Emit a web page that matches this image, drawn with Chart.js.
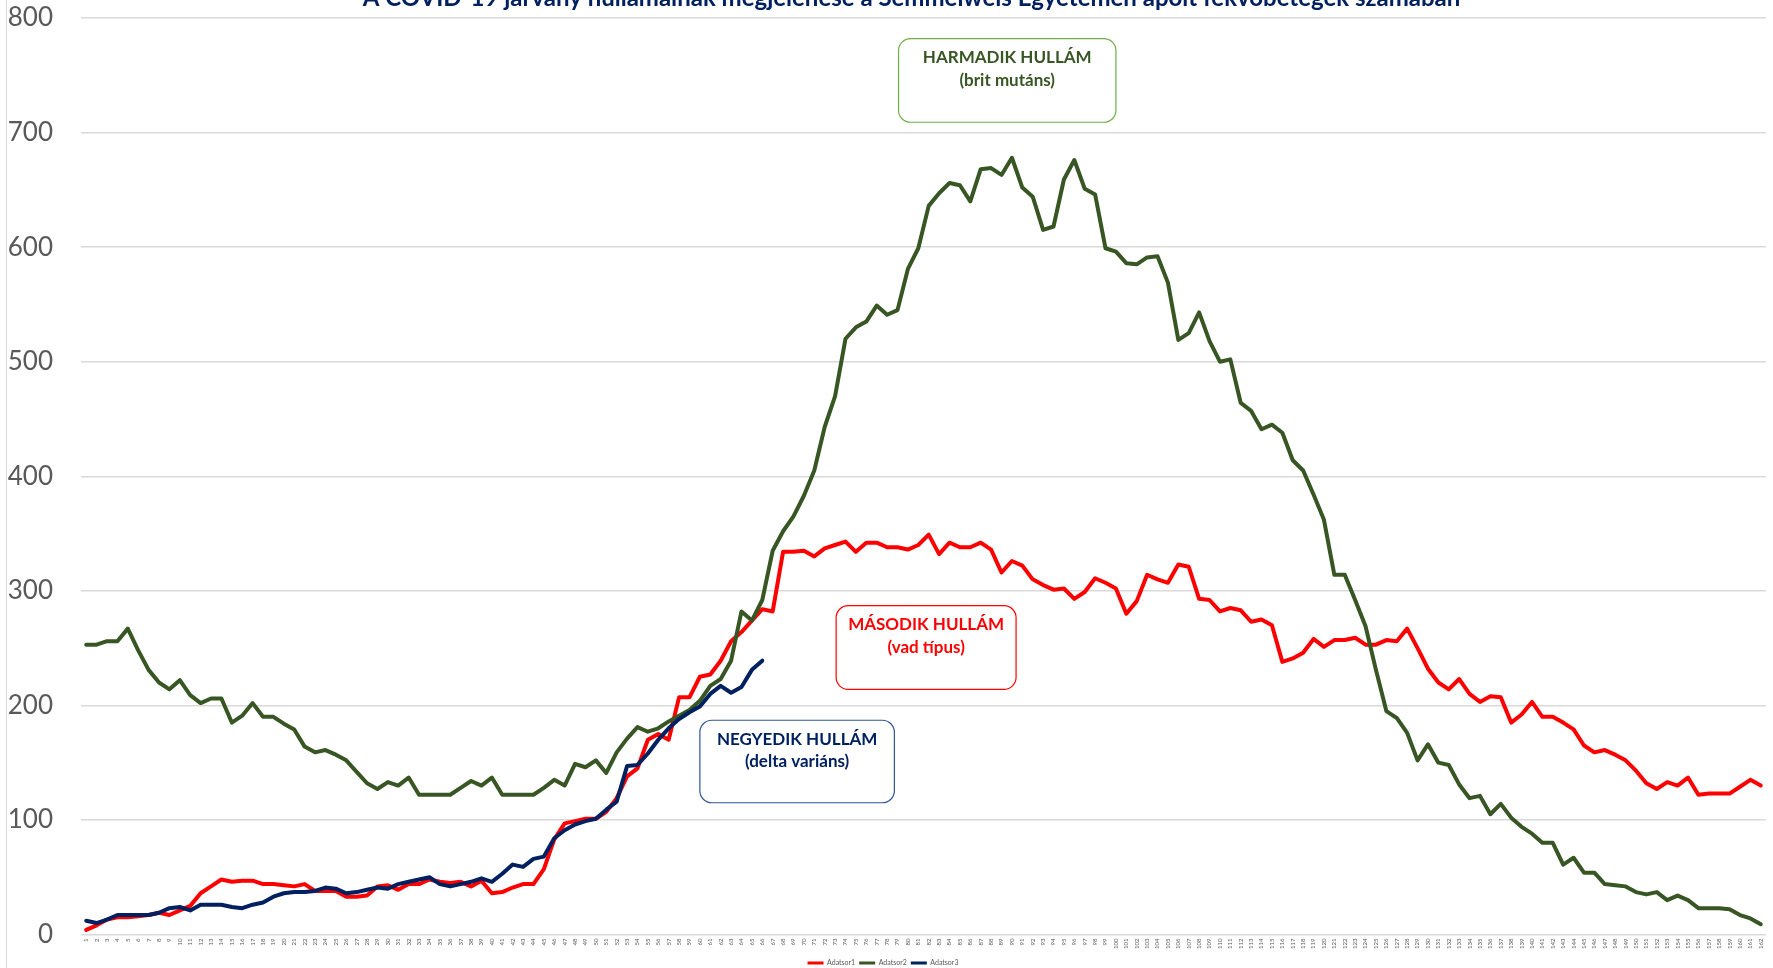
<!DOCTYPE html>
<html lang="hu">

<head>
  <meta charset="UTF-8">
  <meta name="viewport" content="width=device-width, initial-scale=1.0">
  <title>COVID-19 hullámok - Semmelweis Egyetem</title>
  <script src="https://cdn.jsdelivr.net/npm/chart.js"></script>
  <style>
    html, body {
      margin: 0;
      padding: 0;
      background-color: #ffffff;
    }
    #grafikon {
      display: block;
    }
  </style>
</head>

<body>
  <canvas id="grafikon" width="1773" height="968"></canvas>

  <script>
    const cim = "A COVID-19 járvány hullámainak megjelenése a Semmelweis Egyetemen ápolt fekvőbetegek számában";

    // napok (1..162)
    const napok = Array.from({ length: 162 }, (_, i) => String(i + 1));

    const sorozatNevek = ["Adatsor1", "Adatsor2", "Adatsor3"];

    // második hullám (vad típus)
    const adatsor1 = [
      4, 8, 13, 15, 15, 16, 17, 19, 17, 21,
      25, 36, 42, 48, 46, 47, 47, 44, 44, 43,
      42, 44, 38, 38, 38, 33, 33, 34, 42, 43,
      39, 44, 44, 48, 46, 45, 46, 42, 47, 36,
      37, 41, 44, 44, 57, 83, 97, 99, 101, 101,
      107, 119, 138, 145, 170, 175, 170, 207, 207, 225,
      227, 239, 256, 264, 274, 284, 282, 334, 334, 335,
      330, 337, 340, 343, 334, 342, 342, 338, 338, 336,
      340, 349, 332, 342, 338, 338, 342, 336, 316, 326,
      322, 310, 305, 301, 302, 293, 299, 311, 307, 302,
      280, 291, 314, 310, 307, 323, 321, 293, 292, 282,
      285, 283, 273, 275, 270, 238, 241, 246, 258, 251,
      257, 257, 259, 253, 253, 257, 256, 267, 250, 232,
      220, 214, 223, 210, 203, 208, 207, 185, 192, 203,
      190, 190, 185, 179, 165, 159, 161, 157, 152, 143,
      132, 127, 133, 130, 137, 122, 123, 123, 123, 129,
      135, 130
    ];

    // harmadik hullám (brit mutáns)
    const adatsor2 = [
      253, 253, 256, 256, 267, 248, 231, 220, 214, 222,
      209, 202, 206, 206, 185, 191, 202, 190, 190, 184,
      179, 164, 159, 161, 157, 152, 142, 132, 127, 133,
      130, 137, 122, 122, 122, 122, 128, 134, 130, 137,
      122, 122, 122, 122, 128, 135, 130, 149, 146, 152,
      141, 159, 171, 181, 177, 180, 186, 191, 196, 204,
      217, 223, 239, 282, 274, 292, 335, 352, 365, 383,
      405, 443, 470, 520, 530, 535, 549, 541, 545, 581,
      599, 636, 647, 656, 654, 640, 668, 669, 663, 678,
      652, 644, 615, 618, 659, 676, 651, 646, 599, 596,
      586, 585, 591, 592, 569, 519, 525, 543, 518, 500,
      502, 464, 457, 441, 445, 438, 414, 405, 384, 362,
      314, 314, 292, 269, 231, 195, 189, 176, 152, 166,
      150, 148, 131, 119, 121, 105, 114, 102, 94, 88,
      80, 80, 61, 67, 54, 54, 44, 43, 42, 37,
      35, 37, 30, 34, 30, 23, 23, 23, 22, 17,
      14, 9
    ];

    // negyedik hullám (delta variáns)
    const adatsor3 = [
      12, 10, 13, 17, 17, 17, 17, 19, 23, 24,
      21, 26, 26, 26, 24, 23, 26, 28, 33, 36,
      37, 37, 38, 41, 40, 36, 37, 39, 41, 40,
      44, 46, 48, 50, 44, 42, 44, 46, 49, 46,
      53, 61, 59, 66, 68, 84, 91, 96, 99, 101,
      109, 116, 147, 148, 158, 170, 180, 188, 194, 199,
      210, 217, 211, 216, 231, 239
    ];

    // feliratok: x = kategória index (0-tól), y = érték
    const feliratok = [
      { sorok: ["HARMADIK HULLÁM", "(brit mutáns)"], x0: 78.1, x1: 99.0, yFent: 782, yLent: 709,
        szin: "#375623", keret: "#70ad47" },
      { sorok: ["MÁSODIK HULLÁM", "(vad típus)"], x0: 72.1, x1: 89.4, yFent: 287, yLent: 214,
        szin: "#ff0000", keret: "#ff0000" },
      { sorok: ["NEGYEDIK HULLÁM", "(delta variáns)"], x0: 59.0, x1: 77.7, yFent: 187, yLent: 115,
        szin: "#002060", keret: "#2f5597" }
    ];

    const szoveg = "#595959";
    const racs = "#d9d9d9";

    function lekerekitett(ctx, x, y, w, h, r) {
      ctx.beginPath();
      ctx.moveTo(x + r, y);
      ctx.arcTo(x + w, y, x + w, y + h, r);
      ctx.arcTo(x + w, y + h, x, y + h, r);
      ctx.arcTo(x, y + h, x, y, r);
      ctx.arcTo(x, y, x + w, y, r);
      ctx.closePath();
    }

    const dobozok = {
      id: "dobozok",
      beforeDraw(chart) {
        const ctx = chart.ctx;
        ctx.save();
        ctx.strokeStyle = racs;
        ctx.lineWidth = 1;
        ctx.beginPath();
        ctx.moveTo(6.5, 0);
        ctx.lineTo(6.5, chart.height);
        ctx.stroke();
        ctx.restore();
      },
      afterDatasetsDraw(chart) {
        const ctx = chart.ctx;
        const xs = chart.scales.x;
        const ys = chart.scales.y;
        ctx.save();
        feliratok.forEach(f => {
          const left = xs.getPixelForValue(f.x0);
          const right = xs.getPixelForValue(f.x1);
          const top = ys.getPixelForValue(f.yFent);
          const bottom = ys.getPixelForValue(f.yLent);
          lekerekitett(ctx, left, top, right - left, bottom - top, 12);
          ctx.fillStyle = "#ffffff";
          ctx.fill();
          ctx.lineWidth = 1.2;
          ctx.strokeStyle = f.keret;
          ctx.stroke();
          ctx.fillStyle = f.szin;
          ctx.font = "bold 17px Lato";
          ctx.textAlign = "center";
          ctx.textBaseline = "middle";
          f.sorok.forEach((s, i) => {
            ctx.fillText(s, (left + right) / 2, top + 19 + i * 22.5);
          });
        });

        // cím (a kép tetején levágva)
        const ca = chart.chartArea;
        ctx.fillStyle = "#002060";
        ctx.font = "bold 24px Lato";
        ctx.textAlign = "center";
        ctx.textBaseline = "alphabetic";
        ctx.fillText(cim, (ca.left + ca.right) / 2 - 12, 6);
        ctx.restore();
      }
    };

    new Chart(document.getElementById("grafikon"), {
      type: "line",
      data: {
        labels: napok,
        datasets: [
          {
            label: sorozatNevek[0],
            data: adatsor1,
            borderColor: "#ff0000",
            backgroundColor: "#ff0000",
            order: 2
          },
          {
            label: sorozatNevek[1],
            data: adatsor2,
            borderColor: "#375623",
            backgroundColor: "#375623",
            order: 1
          },
          {
            label: sorozatNevek[2],
            data: adatsor3,
            borderColor: "#002060",
            backgroundColor: "#002060",
            order: 0
          }
        ]
      },
      options: {
        responsive: false,
        animation: false,
        layout: {
          padding: { top: 18, right: 7, bottom: -8.5, left: 0 }
        },
        elements: {
          point: { radius: 0 },
          line: {
            borderWidth: 4,
            tension: 0,
            borderJoinStyle: "round",
            borderCapStyle: "round",
            fill: false
          }
        },
        scales: {
          x: {
            offset: true,
            grid: { display: false, drawTicks: false },
            border: { display: false },
            ticks: {
              autoSkip: false,
              minRotation: 90,
              maxRotation: 90,
              padding: 4,
              color: szoveg,
              font: { family: "Lato", size: 6 }
            },
            afterFit(scale) { scale.height = 21; }
          },
          y: {
            min: 0,
            max: 800,
            grid: { color: racs, lineWidth: 1.5, drawTicks: true, tickLength: 28, tickColor: "rgba(0,0,0,0)" },
            border: { display: false },
            ticks: {
              stepSize: 100,
              padding: 0,
              color: szoveg,
              font: { family: "Lato", size: 26 }
            },
            afterFit(scale) { scale.width = 81; }
          }
        },
        plugins: {
          legend: {
            position: "bottom",
            labels: {
              boxWidth: 16,
              boxHeight: 3,
              padding: 4,
              color: szoveg,
              font: { family: "Lato", size: 7 },
              sort: (a, b) => a.datasetIndex - b.datasetIndex,
              generateLabels: chart => Chart.defaults.plugins.legend.labels.generateLabels(chart)
                .map(l => Object.assign(l, { lineWidth: 0 }))
            }
          },
          tooltip: { enabled: false }
        }
      },
      plugins: [dobozok]
    });
  </script>
</body>

</html>
